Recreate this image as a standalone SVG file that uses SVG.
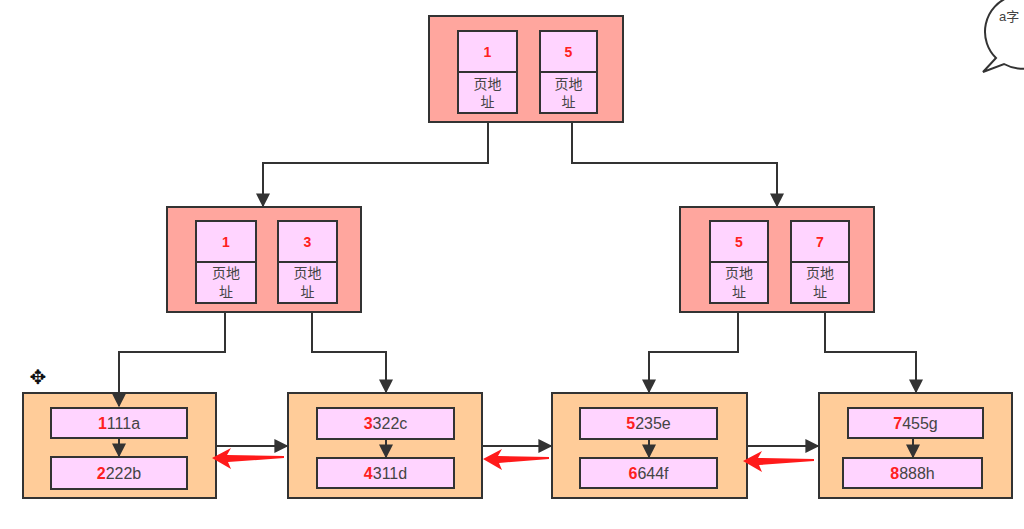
<svg xmlns="http://www.w3.org/2000/svg" width="1024" height="529" viewBox="0 0 1024 529">
<defs>
<style>
.outer{fill:#ffa69e;stroke:#333;stroke-width:2}
.leaf{fill:#ffcc99;stroke:#333;stroke-width:2}
.cell{fill:#ffd4ff;stroke:#333;stroke-width:2}
.num{font-family:"Liberation Sans","Noto Sans CJK SC",sans-serif;font-size:14px;font-weight:bold;fill:#ff2020;text-anchor:middle}
.lbl{font-family:"Liberation Sans","Noto Sans CJK SC",sans-serif;font-size:14px;fill:#444;text-anchor:middle}
.key{font-family:"Liberation Sans","Noto Sans CJK SC",sans-serif;font-size:16px;fill:#444;text-anchor:middle}
.key tspan.r{font-weight:bold;fill:#ff2020}
.ln{fill:none;stroke:#333;stroke-width:2}
.red{fill:#ff1a1a}
</style>
<marker id="ah" viewBox="0 0 10 10" refX="9" refY="5" markerWidth="7" markerHeight="7" markerUnits="strokeWidth" orient="auto">
<path d="M0,0 L10,5 L0,10 z" fill="#333"/>
</marker>
</defs>
<rect width="1024" height="529" fill="#fff"/>

<g id="root">
<rect class="outer" x="429" y="16" width="194" height="106"/>
<rect class="cell" x="458" y="31" width="59" height="82"/>
<line class="ln" x1="458" y1="72" x2="517" y2="72"/>
<text class="num" x="487.5" y="57">1</text>
<text class="lbl" x="487.5" y="89">页地</text>
<text class="lbl" x="487.5" y="107">址</text>
<rect class="cell" x="540" y="31" width="57" height="82"/>
<line class="ln" x1="540" y1="72" x2="597" y2="72"/>
<text class="num" x="568.5" y="57">5</text>
<text class="lbl" x="568.5" y="89">页地</text>
<text class="lbl" x="568.5" y="107">址</text>
</g>

<g id="mid-left">
<rect class="outer" x="167" y="207" width="194" height="105"/>
<rect class="cell" x="196" y="221" width="60" height="82"/>
<line class="ln" x1="196" y1="262" x2="256" y2="262"/>
<text class="num" x="226" y="247">1</text>
<text class="lbl" x="226" y="278">页地</text>
<text class="lbl" x="226" y="297">址</text>
<rect class="cell" x="278" y="221" width="59" height="82"/>
<line class="ln" x1="278" y1="262" x2="337" y2="262"/>
<text class="num" x="307.5" y="247">3</text>
<text class="lbl" x="307.5" y="278">页地</text>
<text class="lbl" x="307.5" y="297">址</text>
</g>

<g id="mid-right">
<rect class="outer" x="680" y="207" width="194" height="105"/>
<rect class="cell" x="710" y="221" width="58" height="82"/>
<line class="ln" x1="710" y1="262" x2="768" y2="262"/>
<text class="num" x="739" y="247">5</text>
<text class="lbl" x="739" y="278">页地</text>
<text class="lbl" x="739" y="297">址</text>
<rect class="cell" x="791" y="221" width="58" height="82"/>
<line class="ln" x1="791" y1="262" x2="849" y2="262"/>
<text class="num" x="820" y="247">7</text>
<text class="lbl" x="820" y="278">页地</text>
<text class="lbl" x="820" y="297">址</text>
</g>

<g id="leaf1">
<rect class="leaf" x="23" y="393" width="193" height="105"/>
<rect class="cell" x="51" y="408" width="136" height="30"/>
<text class="key" x="119" y="429"><tspan class="r">1</tspan>111a</text>
<rect class="cell" x="51" y="457" width="136" height="32"/>
<text class="key" x="119" y="479"><tspan class="r">2</tspan>222b</text>
</g>

<g id="leaf2">
<rect class="leaf" x="288" y="393" width="194" height="105"/>
<rect class="cell" x="317" y="408" width="137" height="31"/>
<text class="key" x="385.5" y="429"><tspan class="r">3</tspan>322c</text>
<rect class="cell" x="317" y="458" width="137" height="30"/>
<text class="key" x="385.5" y="479"><tspan class="r">4</tspan>311d</text>
</g>

<g id="leaf3">
<rect class="leaf" x="552" y="393" width="195" height="105"/>
<rect class="cell" x="580" y="408" width="137" height="31"/>
<text class="key" x="648.5" y="429"><tspan class="r">5</tspan>235e</text>
<rect class="cell" x="580" y="458" width="137" height="30"/>
<text class="key" x="648.5" y="479"><tspan class="r">6</tspan>644f</text>
</g>

<g id="leaf4">
<rect class="leaf" x="819" y="393" width="193" height="105"/>
<rect class="cell" x="848" y="408" width="135" height="30"/>
<text class="key" x="915.5" y="429"><tspan class="r">7</tspan>455g</text>
<rect class="cell" x="843" y="458" width="139" height="30"/>
<text class="key" x="912.5" y="479"><tspan class="r">8</tspan>888h</text>
</g>

<g id="connectors">
<polyline class="ln" points="488,122 488,163 263,163 263,206" marker-end="url(#ah)"/>
<polyline class="ln" points="572,122 572,163 777,163 777,206" marker-end="url(#ah)"/>
<polyline class="ln" points="225,312 225,352 119,352 119,406" marker-end="url(#ah)"/>
<polyline class="ln" points="312,312 312,352 386,352 386,392" marker-end="url(#ah)"/>
<polyline class="ln" points="738,312 738,352 649,352 649,392" marker-end="url(#ah)"/>
<polyline class="ln" points="825,312 825,352 916,352 916,392" marker-end="url(#ah)"/>
<line class="ln" x1="119" y1="438" x2="119" y2="456" marker-end="url(#ah)"/>
<line class="ln" x1="386" y1="439" x2="386" y2="457" marker-end="url(#ah)"/>
<line class="ln" x1="649" y1="439" x2="649" y2="457" marker-end="url(#ah)"/>
<line class="ln" x1="913" y1="438" x2="913" y2="457" marker-end="url(#ah)"/>
<line class="ln" x1="217" y1="446" x2="287" y2="446" marker-end="url(#ah)"/>
<line class="ln" x1="483" y1="446" x2="551" y2="446" marker-end="url(#ah)"/>
<line class="ln" x1="748" y1="446" x2="818" y2="446" marker-end="url(#ah)"/>
<polygon class="red" points="212,458 231,448 227,455 284,456 284,458 228,462 231,469"/>
<polygon class="red" points="483,459 502,449 498,456 549,457 549,459 499,463 502,470"/>
<polygon class="red" points="743,461 762,451 758,458 814,459 814,461 759,465 762,472"/>
</g>

<g id="bubble">
<path d="M996,58 A37,37 0 1 1 1004,64 L983,72 Z" fill="#fff" stroke="#333" stroke-width="2" stroke-linejoin="miter"/>
<text x="999" y="21" font-family="Liberation Sans,'Noto Sans CJK SC',sans-serif" font-size="13" fill="#444">a字</text>
</g>

<text x="38" y="384" font-family="DejaVu Sans,sans-serif" font-size="20" fill="#111" text-anchor="middle">✥</text>
</svg>
